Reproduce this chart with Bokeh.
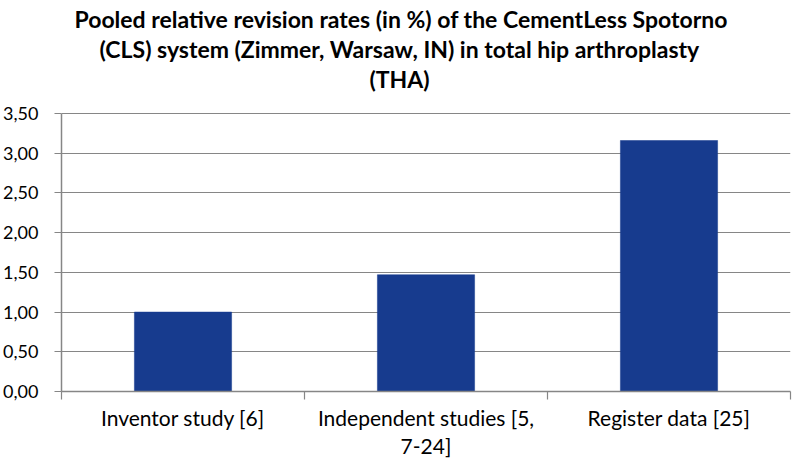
from bokeh.plotting import figure
from bokeh.models import (Range1d, FixedTicker, CustomJSTickFormatter, Title,
                          ColumnDataSource)
from bokeh.embed import file_html
from bokeh.resources import INLINE

# ---- data ----
categories = ["Inventor study [6]", "Independent studies [5,\n7-24]", "Register data [25]"]
revision_rates = [1.00, 1.47, 3.16]
y_ticks = [0.0, 0.5, 1.0, 1.5, 2.0, 2.5, 3.0, 3.5]
title_lines = [
    "Pooled relative revision rates (in %) of the CementLess Spotorno",
    "(CLS) system (Zimmer, Warsaw, IN) in total hip arthroplasty",
    "(THA)",
]

FONT = "Lato"
GRAY = "#868686"
BAR = "#173B8E"

# ---- layout constants (pixels) ----
FRAME_TOP = 94        # top of plotting frame (titles stacked above)
GRID_TOP = 113        # where the highest tick should sit
FRAME_BOTTOM = 391    # x-axis line
y_end = y_ticks[-1] * (FRAME_BOTTOM - FRAME_TOP) / (FRAME_BOTTOM - GRID_TOP)

n = len(categories)
centers = [i + 0.5 for i in range(n)]

p = figure(width=793, height=460, output_backend="svg", toolbar_location=None,
           x_range=Range1d(0, n), y_range=Range1d(y_ticks[0], y_end),
           min_border_left=60, min_border_right=3, min_border_top=FRAME_TOP,
           min_border_bottom=460 - FRAME_BOTTOM)
p.outline_line_color = None
p.background_fill_color = "white"
p.border_fill_color = "white"

src = ColumnDataSource(dict(x=centers, top=revision_rates))
p.vbar(x="x", top="top", width=0.40, bottom=0, source=src,
       fill_color=BAR, line_color=BAR, line_width=0.5)

# grid
p.xgrid.visible = False
p.ygrid.ticker = FixedTicker(ticks=y_ticks)
p.ygrid.grid_line_color = GRAY
p.ygrid.grid_line_width = 1.2

# y axis
ya = p.yaxis[0]
ya.axis_label = None
ya.bounds = (y_ticks[0], y_ticks[-1])
ya.ticker = FixedTicker(ticks=y_ticks)
ya.formatter = CustomJSTickFormatter(code="return tick.toFixed(2).replace('.', ',')")
ya.axis_line_color = GRAY
ya.axis_line_width = 1.5
ya.major_tick_line_color = GRAY
ya.major_tick_line_width = 1.2
ya.major_tick_out = 7
ya.major_tick_in = 0
ya.minor_tick_line_color = None
ya.major_label_standoff = 16
ya.major_label_text_font = FONT
ya.major_label_text_font_size = "18px"
ya.major_label_text_color = "black"

# x axis
xa = p.xaxis[0]
xa.axis_label = None
xa.ticker = FixedTicker(ticks=centers, minor_ticks=list(range(n + 1)))
xa.major_label_overrides = {c: lab for c, lab in zip(centers, categories)}
xa.axis_line_color = GRAY
xa.axis_line_width = 1.5
xa.major_tick_line_color = None
xa.major_tick_out = 0
xa.major_tick_in = 0
xa.minor_tick_line_color = GRAY
xa.minor_tick_line_width = 1.2
xa.minor_tick_out = 8
xa.minor_tick_in = 0
xa.major_label_standoff = 5
xa.major_label_text_font = FONT
xa.major_label_text_font_size = "21px"
xa.major_label_text_line_height = 1.12
xa.major_label_text_color = "black"

# title lines: added nearest-to-frame first
standoffs = [0, 0, 0]
offsets = [13, 38, 308]
for line, so, off in reversed(list(zip(title_lines, standoffs, offsets))):
    p.add_layout(Title(text=line, align="left", offset=off, standoff=so,
                       vertical_align="top",
                       text_font=FONT, text_font_style="bold",
                       text_font_size="23px", text_color="black"), "above")

open("out.html", "w").write(file_html(p, INLINE))
